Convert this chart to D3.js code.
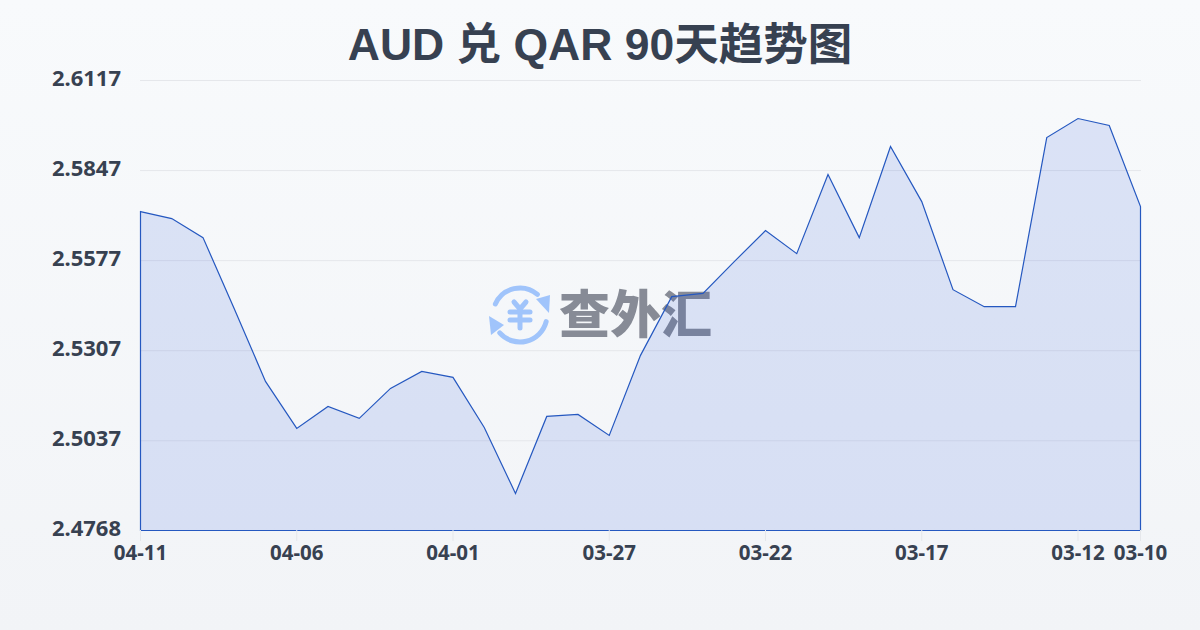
<!DOCTYPE html>
<html><head><meta charset="utf-8">
<script src="https://cdn.jsdelivr.net/npm/d3@7"></script>
<style>html,body{margin:0;padding:0;width:1200px;height:630px;overflow:hidden}svg{display:block}</style>
</head><body><svg id="c" width="1200" height="630"></svg>
<script>
const titleText = "AUD 兑 QAR 90天趋势图";
const watermarkText = "查外汇";
const dates = ["04-11","04-10","04-09","04-08","04-07","04-06","04-05","04-04","04-03","04-02","04-01","03-31","03-30","03-29","03-28","03-27","03-26","03-25","03-24","03-23","03-22","03-21","03-20","03-19","03-18","03-17","03-16","03-15","03-14","03-13","03-12","03-11","03-10"];
const rates = [2.5724,2.5703,2.5646,2.5433,2.5215,2.5074,2.5140,2.5104,2.5194,2.5245,2.5227,2.5077,2.4879,2.5110,2.5116,2.5053,2.5293,2.5469,2.5479,2.5574,2.5667,2.5598,2.5835,2.5646,2.5919,2.5754,2.5490,2.5439,2.5439,2.5946,2.6003,2.5982,2.5739];
const xTickLabels = ["04-11","04-06","04-01","03-27","03-22","03-17","03-12","03-10"];
const yTicks = [2.6117,2.5847,2.5577,2.5307,2.5037,2.4768];
const font = '"Noto Sans","Noto Sans CJK SC",sans-serif';
const titleFont = '"Liberation Sans","Noto Sans CJK SC",sans-serif';
const ink = "#374151";

const svg = d3.select("#c");
const defs = svg.append("defs");
const bg = defs.append("linearGradient").attr("id","bg").attr("x1",0).attr("y1",0).attr("x2",0).attr("y2",1);
bg.append("stop").attr("offset",0).attr("stop-color","#f8fafc");
bg.append("stop").attr("offset",1).attr("stop-color","#f2f4f7");
svg.append("rect").attr("width",1200).attr("height",630).attr("fill","url(#bg)");

const x = d3.scalePoint().domain(dates).range([140.5,1140.5]);
const y = d3.scaleLinear().domain([2.4768,2.6117]).range([530.5,80.5]);

svg.append("text").attr("x",600).attr("y",60).attr("text-anchor","middle")
  .attr("font-family",titleFont).attr("font-weight",700).attr("font-size",44.5).attr("fill",ink).text(titleText);

// grid
svg.append("g").selectAll("line").data(yTicks.slice(0,-1)).join("line")
  .attr("x1",140).attr("x2",1141).attr("y1",d=>y(d)).attr("y2",d=>y(d))
  .attr("stroke","#e5e7eb").attr("stroke-width",1);

// watermark logo
const logo = svg.append("g");
const blue = "#a0c4fb";
const lg = logo.append("g").attr("transform","translate(520,315)").attr("fill","none").attr("stroke",blue).attr("stroke-linecap","round").attr("stroke-linejoin","round");
lg.append("path").attr("stroke-width",5).attr("d",d3.arc()({innerRadius:27,outerRadius:27,startAngle:-1.15,endAngle:0.7}));
lg.append("path").attr("stroke-width",5).attr("d",d3.arc()({innerRadius:27,outerRadius:27,startAngle:1.82,endAngle:3.99}));
lg.append("path").attr("fill",blue).attr("stroke","none").attr("d",d3.line()([[29,-2],[16,-16],[30,-20]]));
lg.append("path").attr("fill",blue).attr("stroke","none").attr("d",d3.line()([[-31,1],[-16,10],[-29,20]]));
lg.append("path").attr("stroke-width",5).attr("d",d3.line()([[-6,-13],[0,-6],[6,-13]]));
lg.append("path").attr("stroke-width",5).attr("d",d3.line()([[-10,-3],[10,-3]]));
lg.append("path").attr("stroke-width",5).attr("d",d3.line()([[-10,5],[10,5]]));
lg.append("path").attr("stroke-width",5).attr("d",d3.line()([[0,-6],[0,13]]));
logo.append("text").attr("x",559).attr("y",333).attr("font-family",'"Noto Sans CJK SC",sans-serif').attr("font-weight",900).attr("font-size",51).attr("fill","#878b96").text(watermarkText);

// area & line
const base = y(2.4768);
svg.append("path").datum(rates)
  .attr("fill","#1d4ed8").attr("fill-opacity",0.13).attr("stroke","none")
  .attr("d",d3.area().x((d,i)=>x(dates[i])).y0(base).y1(d=>y(d)));
svg.append("path").datum(rates)
  .attr("fill","none").attr("stroke","#2558c0").attr("stroke-width",1.2)
  .attr("d",d3.area().x((d,i)=>x(dates[i])).y0(base).y1(d=>y(d)));

// axes
svg.append("g").selectAll("text").data(yTicks).join("text")
  .attr("x",121).attr("y",d=>y(d)+5).attr("text-anchor","end")
  .attr("font-family",font).attr("font-weight",700).attr("font-size",22).attr("fill",ink).text(d=>d.toFixed(4));
svg.append("g").selectAll("line").data(xTickLabels).join("line")
  .attr("x1",d=>x(d)).attr("x2",d=>x(d)).attr("y1",530).attr("y2",541).attr("stroke","#e5e7eb");
svg.append("g").selectAll("text").data(xTickLabels).join("text")
  .attr("x",d=>x(d)).attr("y",560).attr("text-anchor","middle")
  .attr("font-family",font).attr("font-weight",700).attr("font-size",20.5).attr("fill",ink).text(d=>d);
</script></body></html>
